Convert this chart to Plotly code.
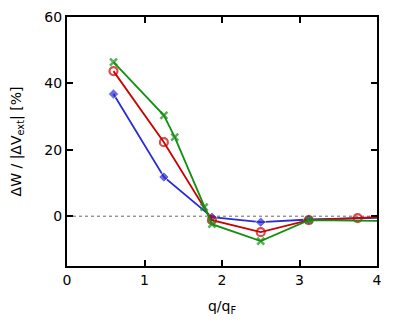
import plotly.graph_objects as go

blue_x = [0.6, 1.25, 1.87, 2.5, 3.12, 4.0]
blue_y = [36.8, 11.8, -0.3, -1.8, -1.0, -0.5]
red_x = [0.6, 1.25, 1.87, 2.5, 3.12, 3.75, 4.0]
red_y = [43.7, 22.3, -1.2, -4.8, -1.2, -0.6, -0.3]
green_x = [0.6, 1.25, 1.39, 1.77, 1.87, 2.5, 3.12, 4.0]
green_y = [46.4, 30.4, 23.8, 2.7, -2.4, -7.5, -1.2, -1.4]
xticks = [0, 1, 2, 3, 4]
yticks = [0, 20, 40, 60]


def sizes(xs, s):
    return [0 if x >= 4 else s for x in xs]


fig = go.Figure()
fig.add_trace(go.Scatter(x=[0, 4], y=[0, 0], mode="lines",
                         line=dict(color="#666666", width=1, dash="dot"),
                         showlegend=False, hoverinfo="skip"))
fig.add_trace(go.Scatter(x=blue_x, y=blue_y, mode="lines+markers",
                         line=dict(color="#2b2bd6", width=1.8),
                         marker=dict(symbol="diamond", size=sizes(blue_x, 8), color="#2b2bd6"),
                         showlegend=False))
fig.add_trace(go.Scatter(x=red_x, y=red_y, mode="lines+markers",
                         line=dict(color="#cc0000", width=1.8),
                         marker=dict(symbol="circle-open", size=sizes(red_x, 8), color="#cc0000",
                                     line=dict(width=2.2, color="#cc0000")),
                         showlegend=False))
fig.add_trace(go.Scatter(x=green_x, y=green_y, mode="lines+markers",
                         line=dict(color="#119011", width=1.8),
                         marker=dict(symbol="x-thin-open", size=sizes(green_x, 7), color="#119011",
                                     line=dict(width=2.5, color="#119011")),
                         showlegend=False))

axis_common = dict(showgrid=False, zeroline=False, showline=True, linecolor="black",
                   linewidth=2, mirror="ticks", ticks="inside", ticklen=6,
                   tickwidth=1.5, tickcolor="black", automargin=False,
                   tickfont=dict(family="DejaVu Sans", size=14, color="black"))
fig.update_xaxes(range=[0, 4], tickvals=xticks, **axis_common,
                 title=dict(text="q/q<sub>F</sub>", font=dict(family="DejaVu Sans", size=14, color="black"), standoff=14))
fig.update_yaxes(range=[-15, 60], tickvals=yticks, **axis_common,
                 title=dict(text="ΔW / |ΔV<sub>ext</sub>| [%]", font=dict(family="DejaVu Sans", size=14, color="black"), standoff=21))
fig.update_layout(width=403, height=333, margin=dict(l=59, r=34, t=9, b=75),
                  plot_bgcolor="white", paper_bgcolor="white")
fig.write_html("out.html")
